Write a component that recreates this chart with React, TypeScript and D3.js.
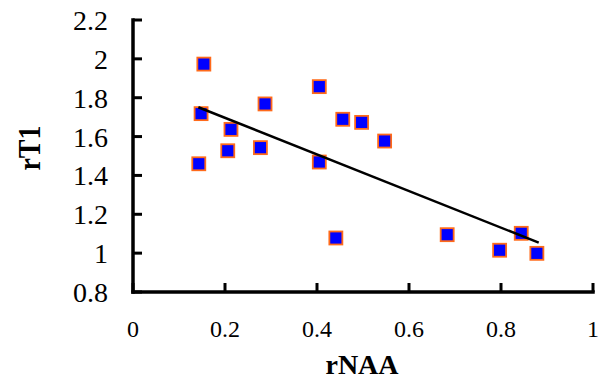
import React from "react";
import * as d3 from "d3";

const xValues = [0.154, 0.405, 0.287, 0.148, 0.456, 0.497, 0.213, 0.547, 0.206, 0.277, 0.143, 0.405, 0.441, 0.683, 0.797, 0.844, 0.878];
const yValues = [1.973, 1.857, 1.768, 1.718, 1.689, 1.673, 1.637, 1.577, 1.527, 1.543, 1.46, 1.469, 1.078, 1.095, 1.015, 1.102, 0.999];
const trendX = [0.142, 0.882];
const trendY = [1.751, 1.054];
const xTicks = [0, 0.2, 0.4, 0.6, 0.8, 1];
const yTicks = [0.8, 1, 1.2, 1.4, 1.6, 1.8, 2, 2.2];

const W = 603;
const H = 381;
const font = "'Liberation Serif', 'Times New Roman', serif";

export default function App() {
  const x = d3.scaleLinear().domain([0, 1]).range([133, 593]);
  const y = d3.scaleLinear().domain([0.8, 2.2]).range([292, 20]);
  const line = d3
    .line<number>()
    .x((_, i) => x(trendX[i]))
    .y((d) => y(d));
  const fmt = (v: number) => String(+v.toFixed(1));
  const s = 13;
  return (
    <svg width={W} height={H} style={{ position: "absolute", left: 0, top: 0 }}>
      <rect width={W} height={H} fill="#fff" />
      <line x1={x(0)} x2={x(1)} y1={y(0.8)} y2={y(0.8)} stroke="#000" strokeWidth={3.5} strokeLinecap="square" />
      <line x1={x(0)} x2={x(0)} y1={y(0.8)} y2={y(2.2)} stroke="#000" strokeWidth={3.5} strokeLinecap="square" />
      {yTicks.map((t) => (
        <g key={"y" + t}>
          <line x1={x(0)} x2={x(0) + 9} y1={y(t)} y2={y(t)} stroke="#000" strokeWidth={3} />
          <text x={108} y={y(t) + 10} textAnchor="end" fontFamily={font} fontSize={28}>
            {fmt(t)}
          </text>
        </g>
      ))}
      {xTicks.map((t) => (
        <g key={"x" + t}>
          <line x1={x(t)} x2={x(t)} y1={y(0.8)} y2={y(0.8) - 9} stroke="#000" strokeWidth={3} />
          <text x={x(t)} y={337} textAnchor="middle" fontFamily={font} fontSize={24}>
            {fmt(t)}
          </text>
        </g>
      ))}
      <text x={362} y={374} textAnchor="middle" fontFamily={font} fontSize={28} fontWeight="bold">
        rNAA
      </text>
      <text
        transform={`translate(40,148) rotate(-90) scale(1,1.1)`}
        textAnchor="middle"
        fontFamily={font}
        fontSize={28}
        fontWeight="bold"
      >
        rT1
      </text>
      {xValues.map((v, i) => (
        <rect
          key={i}
          x={x(v) - s / 2}
          y={y(yValues[i]) - s / 2}
          width={s}
          height={s}
          fill="#0000ff"
          stroke="#ff6a1a"
          strokeWidth={1.8}
        />
      ))}
      <path d={line(trendY) || ""} fill="none" stroke="#000" strokeWidth={2.5} />
    </svg>
  );
}
